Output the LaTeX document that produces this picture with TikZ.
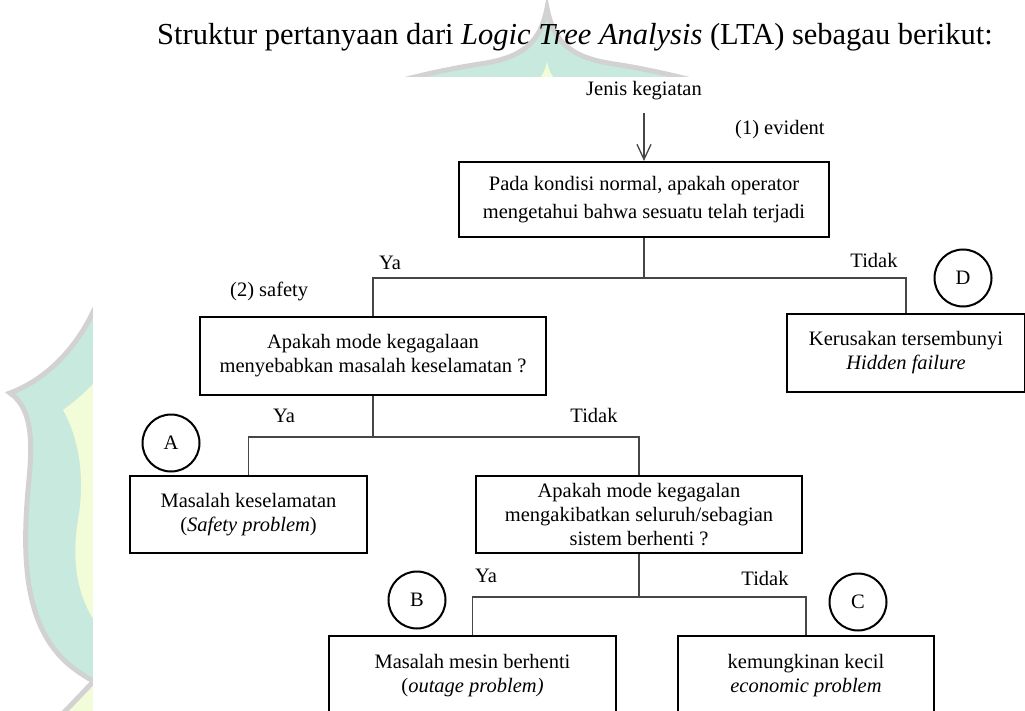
\documentclass[tikz,border=0pt]{standalone}
\usepackage{fontspec}
\setmainfont{Liberation Serif}
\usetikzlibrary{positioning,arrows.meta}

\definecolor{wmteal}{RGB}{200,233,221}
\definecolor{wmkuning}{RGB}{243,252,216}
\definecolor{wmabu}{RGB}{210,210,210}
\definecolor{garisabu}{RGB}{70,70,70}

\begin{document}
\begin{tikzpicture}[
x=1pt,y=-1pt,
>={Straight Barb[length=15pt,width=14pt]},
every node/.style={font=\fontsize{20.5}{24}\selectfont, inner sep=0pt},
box/.style={
draw,
line width=2.2pt,
align=center,
minimum height=77pt
},
circ/.style={draw, circle, line width=2pt, minimum size=57pt},
garis/.style={draw=garisabu, line width=1.3pt},
arrow/.style={->, garisabu, line width=1.3pt}
]
\useasboundingbox (0,0) rectangle (1025,711);
\clip (0,0) rectangle (1025,711);

% watermark
\filldraw[fill=wmteal, draw=wmabu, line width=5pt]
(547,8) .. controls (540,45) and (520,58) .. (480,64)
.. controls (400,76) and (230,120) .. (150,210)
.. controls (115,250) and (105,290) .. (93,312)
.. controls (75,350) and (45,380) .. (10,393)
.. controls (35,410) and (32,450) .. (28,490)
.. controls (22,560) and (25,625) .. (67,663)
.. controls (120,710) and (300,760) .. (547,800)
.. controls (794,760) and (974,710) .. (1027,663)
.. controls (1069,625) and (1072,560) .. (1066,490)
.. controls (1062,450) and (1059,410) .. (1084,393)
.. controls (1049,380) and (1019,350) .. (1001,312)
.. controls (989,290) and (979,250) .. (944,210)
.. controls (864,120) and (694,76) .. (614,64)
.. controls (574,58) and (554,45) .. (547,8) -- cycle;
\fill[wmkuning]
(547,62) .. controls (542,85) and (525,95) .. (490,102)
.. controls (380,125) and (250,180) .. (180,260)
.. controls (140,310) and (120,370) .. (63,410)
.. controls (80,440) and (85,480) .. (78,520)
.. controls (70,570) and (80,610) .. (110,640)
.. controls (200,720) and (400,740) .. (547,750)
.. controls (694,740) and (894,720) .. (984,640)
.. controls (1014,610) and (1024,570) .. (1016,520)
.. controls (1009,480) and (1014,440) .. (1031,410)
.. controls (974,370) and (954,310) .. (914,260)
.. controls (844,180) and (714,125) .. (604,102)
.. controls (569,95) and (552,85) .. (547,62) -- cycle;
\fill[wmkuning] (93,682) -- (50,727) -- (120,727) -- (120,682) -- cycle;
\draw[wmabu, line width=5pt] (93,682) -- (50,727);

% diagram area
\fill[white] (93,77) rectangle (1025,711);

% Title
\node[anchor=base west, font=\fontsize{30.5}{36}\selectfont] (judul) at (157,45)
{Struktur pertanyaan dari \textit{Logic Tree Analysis} (LTA) sebagau berikut:};

% Start
\node[anchor=base] (jenis) at (644,96) {Jenis kegiatan};
\node[anchor=base west] (evident) at (735,135) {(1) evident};

% Question 1
\node[box, minimum width=370pt, minimum height=75pt] (tanya1) at (644,199.5)
{Pada kondisi normal, apakah operator\\[4pt]mengetahui bahwa sesuatu telah terjadi};

% Question 2
\node[anchor=base west] (safety) at (230,297) {(2) safety};
\node[box, minimum width=346pt, minimum height=78pt] (tanya2) at (373,356)
{Apakah mode kegagalaan\\menyebabkan masalah keselamatan ?};

% Hidden failure
\node[box, minimum width=238pt, minimum height=78pt] (hidden) at (906,353)
{Kerusakan tersembunyi\\\textit{Hidden failure}};
\node[circ] (kD) at (963,278) {D};

% Safety problem
\node[box, minimum width=237pt] (safe) at (248.5,514.5)
{Masalah keselamatan\\(\textit{Safety problem})};
\node[circ] (kA) at (171,443) {A};

% Question 3
\node[box, minimum width=326pt] (tanya3) at (639,514.5)
{Apakah mode kegagalan\\mengakibatkan seluruh/sebagian\\sistem berhenti ?};

% Outage problem
\node[box, minimum width=287pt, minimum height=80pt] (outage) at (472.5,676)
{Masalah mesin berhenti\\(\textit{outage problem)}};
\node[circ] (kB) at (417,600) {B};

% Economic problem
\node[box, minimum width=256pt, minimum height=80pt] (ekonomi) at (806,676)
{kemungkinan kecil\\\textit{economic problem}};
\node[circ] (kC) at (858,602) {C};

% Answers
\node[anchor=base] (ya1) at (390,270) {Ya};
\node[anchor=base] (tidak1) at (874,268) {Tidak};
\node[anchor=base] (ya2) at (284,422) {Ya};
\node[anchor=base] (tidak2) at (594,422) {Tidak};
\node[anchor=base] (ya3) at (486,582) {Ya};
\node[anchor=base] (tidak3) at (765,585) {Tidak};

% Branch points
\coordinate (cab1) at (644,278);
\coordinate (cab2) at (373,437);
\coordinate (cab3) at (639,597);

% Arrows
\draw[arrow, shorten <=12pt] (jenis.south) -- (tanya1.north);

\draw[garis] (tanya1.south) -- (cab1);
\draw[garis] (cab1) -| (tanya2.north);
\draw[garis] (cab1) -| (hidden.north);

\draw[garis] (tanya2.south) -- (cab2);
\draw[garis] (cab2) -| (safe.north);
\draw[garis] (cab2) -| (tanya3.north);

\draw[garis] (tanya3.south) -- (cab3);
\draw[garis] (cab3) -| (outage.north);
\draw[garis] (cab3) -| (ekonomi.north);

\end{tikzpicture}
\end{document}
